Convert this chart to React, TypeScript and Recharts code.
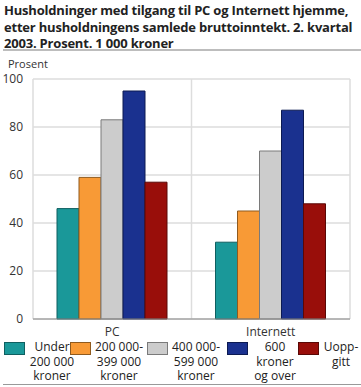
import { BarChart, Bar, XAxis, YAxis, CartesianGrid } from 'recharts'

const categories = ['PC', 'Internett']
const seriesNames = ['Under\n200 000\nkroner', '200 000-\n399 000\nkroner', '400 000-\n599 000\nkroner', '600\nkroner\nog over', 'Uopp-\ngitt']
const under200 = [46, 32]
const from200to399 = [59, 45]
const from400to599 = [83, 70]
const over600 = [95, 87]
const unknown = [57, 48]
const yTicks = [0, 20, 40, 60, 80, 100]

const fills = ['#1a9899', '#f89a36', '#cccccc', '#1a318f', '#990e0a']
const strokes = ['#0f5f60', '#8f5a1e', '#7a7a7a', '#0c1a52', '#5a0806']
const keys = ['s0', 's1', 's2', 's3', 's4']
const values = [under200, from200to399, from400to599, over600, unknown]

const data = categories.map((c, i) => {
  const row: Record<string, string | number> = { name: c }
  keys.forEach((k, j) => {
    row[k] = values[j][i]
  })
  return row
})

const font = '"Open Sans", "DejaVu Sans", sans-serif'

export default function App() {
  return (
    <div style={{ position: 'absolute', left: 0, top: 0, width: 361, height: 387, fontFamily: font, color: '#222', background: '#fff' }}>
      <div style={{ position: 'absolute', left: 4, top: 2, width: 357, fontSize: 13, fontWeight: 'bold', lineHeight: '16.5px', letterSpacing: -0.2 }}>
        Husholdninger med tilgang til PC og Internett hjemme, etter husholdningens samlede bruttoinntekt. 2. kvartal 2003. Prosent. 1 000 kroner
      </div>
      <div style={{ position: 'absolute', left: 3, top: 49, width: 358, height: 2, background: '#bdbdbd' }} />
      <div style={{ position: 'absolute', left: 8, top: 57, fontSize: 11, lineHeight: '13px', color: '#333' }}>Prosent</div>
      <div style={{ position: 'absolute', left: 0, top: 0 }}>
        <BarChart
          width={361}
          height={340}
          data={data}
          margin={{ top: 79, right: 11, left: 0, bottom: 0 }}
          barGap={0}
          barCategoryGap={24}
        >
          <CartesianGrid
            stroke="#dddddd"
            strokeWidth={1.5}
            verticalCoordinatesGenerator={({ offset }: any) => [
              offset.left,
              offset.left + offset.width / 2,
              offset.left + offset.width,
            ]}
          />
          <YAxis
            width={33}
            domain={[0, 100]}
            ticks={yTicks}
            axisLine={false}
            tickLine={false}
            tick={{ fontSize: 12, fill: '#333', fontFamily: font }}
            tickMargin={4}
            interval={0}
          />
          <XAxis
            dataKey="name"
            height={21}
            axisLine={{ stroke: '#888' }}
            tickLine={false}
            tick={{ fontSize: 12, fill: '#333', fontFamily: font }}
            tickMargin={2}
          />
          {keys.map((k, j) => (
            <Bar key={k} dataKey={k} fill={fills[j]} stroke={strokes[j]} strokeWidth={1} isAnimationActive={false} />
          ))}
        </BarChart>
      </div>
      {seriesNames.map((n, j) => {
        const lefts = [4, 70, 147, 227, 298]
        const textWidths = [50, 52, 52, 50, 40]
        return (
          <div key={n} style={{ position: 'absolute', left: lefts[j], top: 342, display: 'flex', alignItems: 'flex-start' }}>
            <div style={{ width: 19, height: 11, background: fills[j], border: `1px solid ${strokes[j]}` }} />
            <div style={{ width: textWidths[j], marginLeft: 2, marginTop: -2, fontSize: 12, lineHeight: '14.5px', textAlign: 'center', whiteSpace: 'pre', color: '#222' }}>
              {n}
            </div>
          </div>
        )
      })}
      <div style={{ position: 'absolute', left: 3, top: 384, width: 358, height: 1, background: '#999' }} />
    </div>
  )
}
